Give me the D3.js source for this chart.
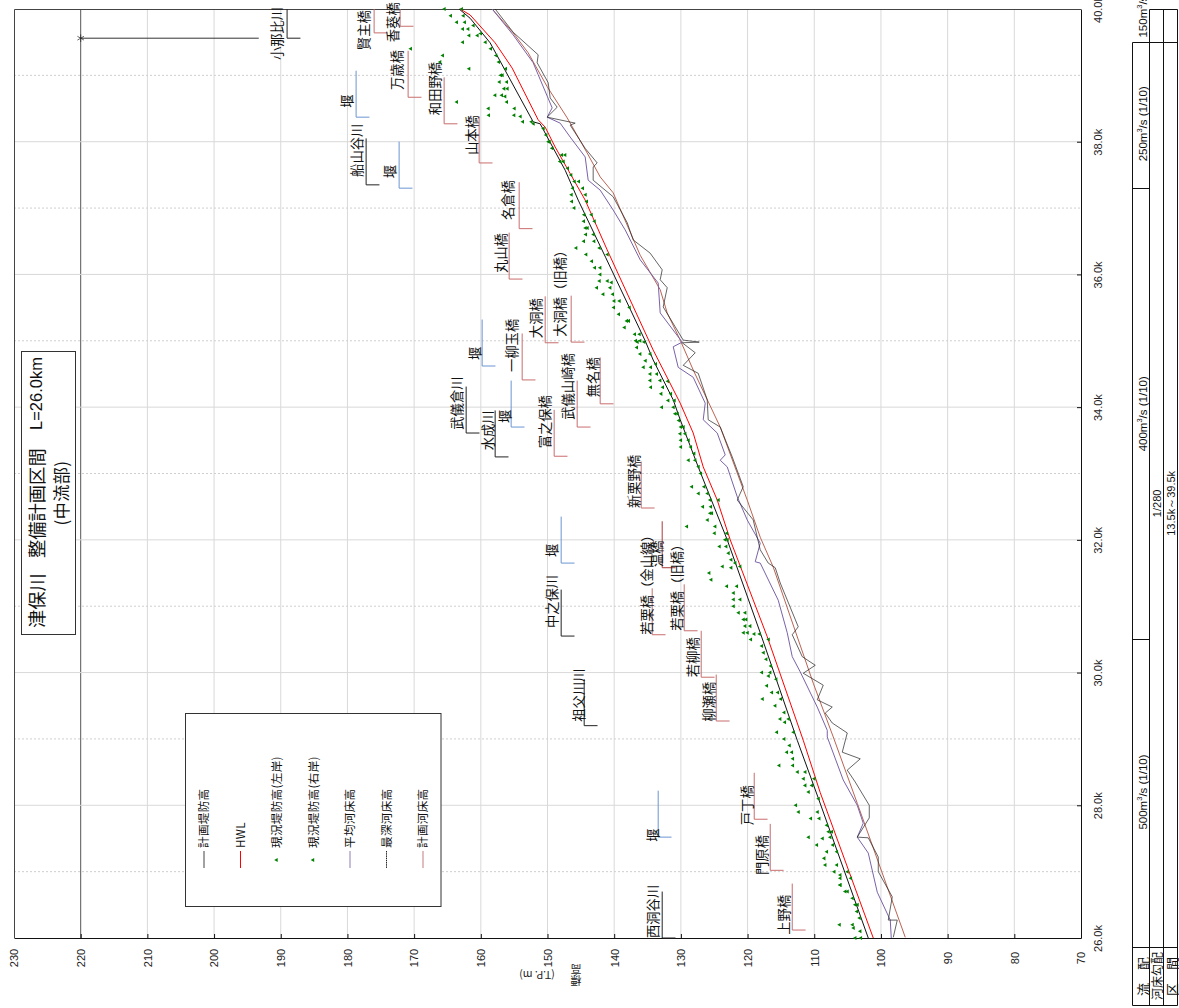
<!DOCTYPE html>
<html><head><meta charset="utf-8">
<script src="https://cdn.jsdelivr.net/npm/d3@7"></script>
<style>html,body{margin:0;padding:0;background:#fff}svg{display:block}</style>
</head><body><svg id="c" width="1179" height="1008"></svg>
<script>
const elevTicks=[230,220,210,200,190,180,170,160,150,140,130,120,110,100,90,80,70];
const kmMajor=[26,28,30,32,34,36,38,40];
const kmMinor=[27,29,31,33,35,37,39];

const hwl=[[40,163.1],[39.91,161.6],[39.49,157.85],[39.11,155.3],[38.33,151.4],[38.22,150.35],[37.92,148.85],[37.12,144.35],[36.37,141.05],[34.86,134.15],[34.06,130.1],[33.61,128.15],[33.1,126.65],[32.6,124.55],[32,122.6],[30.54,117.05],[28.98,111.65],[28.19,109.1],[26,101.15]];
const levee=[[40,163.25],[39.86,161.6],[39.49,158.6],[38.3,152.15],[38.27,151.1],[37.57,147.35],[37.12,145.4],[36.26,141.3],[35,135.35],[34.71,134.15],[34.11,131.15],[33.81,130.1],[33.1,127.4],[32,123.05],[30.6,118.1],[28.98,112.55],[28.11,109.4],[26,101.9]];
const planBed=[[40,158.3],[39.64,155.15],[39.34,152.9],[38.83,150.05],[38.36,147.05],[37.83,144.05],[37.47,142.1],[37.23,140.15],[36.29,136.1],[35.77,133.1],[35.42,132.05],[35.01,130.1],[34.56,128.15],[33.7,124.1],[32.6,120.05],[32.04,118.1],[31.59,116.15],[29.84,110.15],[29.03,107.15],[28.03,103.55],[26.01,96.35]];
const meanBed=[[40,158.3],[39.61,155.15],[39.19,152.15],[39.01,151.4],[38.51,149.3],[38.37,150.05],[38.28,148.1],[38.07,146.6],[37.77,144.35],[37.42,143.9],[37.27,142.1],[36.97,140.15],[36.67,138.35],[36.22,136.1],[35.87,133.4],[35.42,133.1],[34.98,129.8],[34.91,131.15],[34.6,130.4],[34.45,128.15],[34.06,126.35],[33.81,126.65],[33.61,124.55],[33.28,123.35],[33.2,124.1],[33.1,123.05],[32.65,121.55],[32.3,120.05],[31.95,118.1],[31.67,118.85],[31.65,118.1],[31.09,115.4],[30.6,114.05],[30.24,113.3],[30.01,112.1],[29.48,109.55],[29.13,108.05],[29.03,108.05],[28.38,105.65],[28,103.55],[27.73,102.65],[27.52,103.55],[27.28,101.9],[26.69,100.55],[26.27,98.6],[26,98.45]];
const deepBed=[[40,157.85],[39.65,155.15],[39.31,151.4],[39.19,151.55],[38.89,149.9],[38.66,149.6],[38.52,148.55],[38.37,150.05],[38.28,145.85],[38.25,146.6],[37.9,144.35],[37.68,142.55],[37.62,143.15],[37.42,143.15],[37.17,140.15],[36.78,138.05],[36.52,137.15],[36.32,134.6],[36.07,132.8],[35.92,133.1],[35.8,132.05],[35.51,132.65],[35.21,130.85],[35.01,129.65],[34.98,127.25],[34.97,129.8],[34.82,127.85],[34.63,129.65],[34.51,127.4],[34.11,126.05],[33.81,125.9],[33.7,124.1],[33.25,122.3],[32.8,120.65],[32.6,121.55],[32.3,119.15],[31.85,118.1],[31.65,116.9],[31.58,115.85],[31.35,115.1],[30.69,112.4],[30.57,113.3],[30.24,111.8],[30.11,109.85],[29.99,111.65],[29.81,108.65],[29.59,109.55],[29.48,107.3],[29.39,108.35],[29.24,107.3],[29.09,105.05],[28.8,105.8],[28.7,103.1],[28.53,105.05],[28.35,103.85],[28,101.75],[27.81,101.75],[27.52,103.55],[27.51,101.9],[27.22,100.4],[27,100.4],[26.62,98.3],[26.27,98.9],[26.27,97.55],[26.01,98.15]];

const bankKm=[40,39.9,39.8,39.75,39.7,39.63,39.6,39.5,39.4,39.3,39.2,39.1,39,38.9,38.8,38.7,38.68,38.6,38.5,38.4,38.38,38.3,38.27,38.2,38.1,38,37.9,37.8,37.7,37.6,37.5,37.4,37.3,37.2,37.1,37,36.9,36.8,36.7,36.6,36.5,36.4,36.3,36.2,36.1,36,35.9,35.88,35.8,35.7,35.6,35.5,35.4,35.3,35.2,35.1,35,34.98,34.9,34.8,34.7,34.65,34.6,34.5,34.4,34.39,34.3,34.2,34.1,34,33.9,33.8,33.7,33.6,33.5,33.4,33.3,33.2,33.1,33,32.8,32.7,32.6,32.5,32.4,32.3,32.2,32.1,32,31.9,31.8,31.7,31.65,31.6,31.58,31.5,31.4,31.3,31.2,31.1,31,30.9,30.8,30.7,30.6,30.58,30.5,30.4,30.3,30.2,30.1,30,29.95,29.9,29.8,29.7,29.6,29.5,29.4,29.3,29.25,29.1,29,28.9,28.8,28.7,28.6,28.5,28.4,28.3,28.2,28.1,28,27.9,27.8,27.7,27.6,27.52,27.5,27.4,27.3,27.2,27.1,27,26.95,26.9,26.8,26.7,26.6,26.5,26.4,26.3,26.2,26.15,26.1,26];
const bankLeft=[165.45,164.5,163.6,null,162.7,null,161.75,162.7,170.5,165.7,166.1,161.75,157,157.2,156.5,157.85,null,163.6,158.85,158.8,null,153.7,null,null,null,149.85,null,147.85,148.1,null,null,145.95,146.2,146.4,146.35,146,144.5,144.55,144.3,144.25,144.55,145.7,144.2,143.35,142.9,null,142.2,null,142.6,141.65,140,140.05,139.3,138.1,138.45,136.9,136.75,136.5,136.6,136.1,135.3,null,135.6,134.6,134.6,null,134.5,132.95,131.9,132.85,130.85,130.3,130,130.1,130,130,null,128.85,127.35,null,128.35,127.35,125.6,126.7,125.6,126,129.1,124.95,123.35,124.2,122.85,122.45,null,123.75,null,125.75,125.45,123.1,122.1,122.1,122.1,121.35,120.6,120.35,120.6,119,119.5,117.85,117.6,117.2,116.5,117.85,null,null,117.1,116.35,117.75,115.85,null,115.1,114.4,115.6,114.5,null,114.1,null,115.25,112.5,111.6,111.35,110.85,null,112.75,112.35,110.5,null,107.85,110.85,null,109.6,108.1,108.5,108.35,107,null,106.1,106.1,105.35,104.25,103.85,103.6,103.2,106.2,null,103.1,103.85];
const bankRight=[162.85,162.6,162.4,161.1,161.9,160,160.5,159.3,158.5,157.7,157.3,156.25,156.75,156.1,156,156.85,156.35,156.1,154.95,155,154.05,152.4,152.1,150.6,150.2,149.7,149.3,147.35,147.6,146.95,146.45,145.3,144.7,144.3,144.1,null,143.4,142.95,144,143.1,143,142.2,141,null,142.1,142.1,141,140.4,140.6,140.2,139.2,137.7,null,137.8,null,136.2,136.1,135.5,null,134.6,null,133.75,134.5,133.6,133.1,131.95,132.7,131.5,130.95,131.1,130.5,null,129.6,129.35,128.85,128.5,128,127.85,null,127,126.5,126,124.35,125.5,125.35,null,124.85,123.1,123,123.2,null,null,121.85,121.1,122.45,null,null,121.6,null,121.1,null,120.35,120.2,119.6,120,118.2,116.85,null,null,null,null,116.6,116.85,115.7,null,115.45,115,null,114.5,113.85,null,113.1,null,113.7,113.35,113.2,113.2,111.35,110,110.35,null,109.35,null,109.5,109.25,108.1,107.35,107.6,108.75,107.2,106.6,null,106.6,105,106.1,104.5,106.1,105,null,103.5,null,null,104.25,104.1,null,103];

const annNames=["小那比川","賢主橋","香葵橋","万歳橋","和田野橋","堰","船山谷川","堰","山本橋","名倉橋","丸山橋","大洞橋","大洞橋（旧橋）","一柳玉橋","堰","武儀山崎橋","無名橋","武儀倉川","水成川","堰","富之保橋","新栗野橋","堰","中之保川","祖父川川","若栗橋（金山線）","温橋","若栗橋（旧橋）","若柳橋","柳瀬橋","戸丁橋","門原橋","上野橋","堰","西洞谷川"];
const annKinds=["river","bridge","bridge","bridge","bridge","weir","river","weir","bridge","bridge","bridge","bridge","bridge","bridge","weir","bridge","bridge","river","river","weir","bridge","bridge","weir","river","river","bridge","bridge2","bridge","bridge","bridge","bridge","bridge","bridge","weir","river"];
const annElev=[189.05,176,172.1,170.9,165.5,178.7,177.2,172.25,160.25,154.25,155.75,150.35,146.45,153.8,159.8,145.55,142.1,162.2,157.85,155.45,149,135.95,147.95,147.95,144.5,134.3,132.8,129.5,126.95,124.7,119,116.6,113.3,133.4,132.8];
const annKm=[39.56,39.64,39.74,38.67,38.27,38.37,37.35,37.3,37.68,36.69,35.93,34.97,34.98,34.41,34.62,33.7,34.05,33.61,33.25,33.7,33.26,32.48,31.65,30.55,29.2,30.57,31.58,30.63,29.93,29.27,27.79,27.02,26.12,27.52,26];
const annLabelElev=[190.55,177.5,173.15,172.55,166.85,180.05,178.55,173.6,161.3,155.9,156.95,151.7,148.1,155.3,160.85,146.9,143.15,163.55,158.9,156.35,150.35,137,149.3,149.3,145.25,135.05,133.55,130.55,128.15,125.75,120.05,117.8,114.5,134.15,134.15];
const annLabelKm=[39.23,39.38,39.5,38.78,38.4,38.51,37.47,37.45,37.8,36.82,36.02,35.04,35.06,34.53,34.71,33.81,34.15,33.66,33.35,33.76,33.38,32.48,31.74,30.67,29.26,30.57,31.59,30.63,29.93,29.26,27.7,26.95,26.05,27.45,26];

const legendNames=["計画堤防高","HWL","現況堤防高(左岸)","現況堤防高(右岸)","平均河床高","最深河床高","計画河床高"];
const flowBreaks=[39.5,37.3,30.5];
const flowLabels=[["150","/s (1/10)",39.57],["250","/s (1/10)",38.27],["400","/s (1/10)",33.9],["500","/s (1/10)",28.2]];
const rowNames=["流　配","河床勾配","区　間"];
const slopeLabel="1/280";
const rangeLabel="13.5k～39.5k";
const titleParts=["津保川","整備計画区間","L=26.0km"];
const titleLine2="(中流部)";

const x=d3.scaleLinear().domain([230,70]).range([14,1081]);
const y=d3.scaleLinear().domain([40,26]).range([9,938]);
const svg=d3.select("#c");
const SANS="'Liberation Sans',Arial,sans-serif", JP="'Noto Sans CJK JP',sans-serif";
const vtext=(g,px,py,str,o={})=>g.append("text")
  .attr("transform",`translate(${px},${py}) rotate(-90)`)
  .attr("text-anchor",o.anchor||"start").attr("dominant-baseline","central")
  .attr("font-family",o.font||JP).attr("font-size",o.size||13).attr("fill",o.fill||"#111")
  .attr("letter-spacing",o.ls||null).text(str);

// grid
const grid=svg.append("g");
grid.selectAll(".v").data(elevTicks.slice(1,-1)).join("line")
  .attr("x1",d=>x(d)).attr("x2",d=>x(d)).attr("y1",9).attr("y2",938)
  .attr("stroke",d=>d===220?"#555":"#d9d9d9").attr("stroke-width",1);
grid.selectAll(".h").data(kmMajor.slice(1,-1)).join("line")
  .attr("x1",14).attr("x2",1081).attr("y1",d=>y(d)).attr("y2",d=>y(d)).attr("stroke","#d9d9d9");
grid.selectAll(".m").data(kmMinor).join("line")
  .attr("x1",14).attr("x2",1081).attr("y1",d=>y(d)).attr("y2",d=>y(d))
  .attr("stroke","#cfcfcf").attr("stroke-dasharray","2 2");

// axes
const axB=svg.append("g").attr("transform","translate(0,938)")
  .call(d3.axisBottom(x).tickValues(elevTicks).tickSize(-4).tickSizeOuter(0).tickFormat(d3.format("d")));
axB.selectAll("text").attr("font-family",SANS).attr("font-size",11).attr("fill","#222")
  .attr("transform",d=>"translate(0,20) rotate(-90)").attr("text-anchor","middle").attr("dy","0.35em").attr("y",0);
const axR=svg.append("g").attr("transform","translate(1081,0)")
  .call(d3.axisRight(y).tickValues(kmMajor).tickSize(-4).tickSizeOuter(0).tickFormat(d=>d3.format(".1f")(d)+"k"));
axR.selectAll("text").attr("font-family",SANS).attr("font-size",11).attr("fill","#222")
  .attr("transform","translate(17,0) rotate(-90)").attr("text-anchor","middle").attr("dy","0.35em").attr("x",0);
[axB,axR].forEach(a=>a.selectAll("line,path").attr("stroke","#111"));
svg.append("path").attr("d","M14.5,938V9.5H1081").attr("fill","none").attr("stroke","#444");

// axis title
svg.append("text").attr("transform","translate(537,975) rotate(180)").attr("text-anchor","middle")
  .attr("dominant-baseline","central").attr("font-family",JP).attr("font-size",10.5).attr("fill","#222").text("(T.P. m)");
svg.append("text").attr("transform","translate(576,970) rotate(180)").attr("text-anchor","middle")
  .attr("dominant-baseline","central").attr("font-family",JP).attr("font-size",11).attr("fill","#222").text("高");
svg.append("text").attr("transform","translate(576,981) rotate(180)").attr("text-anchor","middle")
  .attr("dominant-baseline","central").attr("font-family",JP).attr("font-size",11).attr("fill","#222").text("標");

// annotations
const kindColor={river:"#222",bridge:"#c96d6d",bridge2:"#a83c3c",weir:"#6b95d2"};
const ann=svg.append("g");
annNames.forEach((n,i)=>{
  const c=kindColor[annKinds[i]], xe=x(annElev[i]), top=Math.min(40,annKm[i]+0.7);
  ann.append("path").attr("fill","none").attr("stroke",c).attr("stroke-width",1)
    .attr("d",d3.line()([[xe,y(top)],[xe,y(annKm[i])],[x(annElev[i]-2),y(annKm[i])]]));
  vtext(ann,x(annLabelElev[i])-1,y(annLabelKm[i]),n,{size:13.3});
});
// tributary marker
const tribKm=39.56, tribFrom=220, tribTo=193.3;
ann.append("line").attr("x1",x(tribFrom)).attr("x2",x(tribTo)).attr("y1",y(tribKm)).attr("y2",y(tribKm)).attr("stroke","#333");
ann.append("path").attr("d",d3.symbol(d3.symbolAsterisk,40)()).attr("transform",`translate(${x(tribFrom)},${y(tribKm)})`)
  .attr("fill","none").attr("stroke","#222").attr("stroke-width",.7);

// lines
const ln=d3.line().x(d=>x(d[1])).y(d=>y(d[0]));
const lines=svg.append("g").attr("fill","none").attr("stroke-linejoin","round");
lines.append("path").attr("d",ln(planBed)).attr("stroke","#bb6352").attr("stroke-width",1);
lines.append("path").attr("d",ln(meanBed)).attr("stroke","#7a62a8").attr("stroke-width",1);
lines.append("path").attr("d",ln(deepBed)).attr("stroke","#222").attr("stroke-width",.7);
lines.append("path").attr("d",ln(levee)).attr("stroke","#111").attr("stroke-width",1);
lines.append("path").attr("d",ln(hwl)).attr("stroke","#ff0000").attr("stroke-width",1);

// bank markers
const tri=d3.symbol(d3.symbolTriangle,7)();
[bankLeft,bankRight].forEach(arr=>{
  svg.append("g").selectAll("path").data(bankKm.map((k,i)=>[k,arr[i]]).filter(d=>d[1]!=null)).join("path")
    .attr("d",tri).attr("fill","#008000")
    .attr("transform",d=>`translate(${x(d[1])},${y(d[0])}) rotate(-90)`);
});

// legend
const lg=svg.append("g");
lg.append("rect").attr("x",185.5).attr("y",713.5).attr("width",255.5).attr("height",193).attr("fill","#fff").attr("stroke","#333");
const lgX=d3.scalePoint().domain(legendNames).range([204,423]);
const lgColor=["#444","#ff0000",null,null,"#8f7fb5","#222","#c77a7a"];
legendNames.forEach((n,i)=>{
  const px=lgX(n);
  if(lgColor[i]) lg.append("line").attr("x1",px).attr("x2",px).attr("y1",851).attr("y2",868)
    .attr("stroke",lgColor[i]).attr("stroke-dasharray",i===5?"1.5 .7":null);
  else lg.append("path").attr("d",tri).attr("fill","#008000").attr("transform",`translate(${px-.5},860) rotate(-90)`);
  vtext(lg,px-1,848,n,{size:11.5,ls:".4"});
});

// title
const tb=svg.append("g");
tb.append("rect").attr("x",21.5).attr("y",351.5).attr("width",54).attr("height",283).attr("fill","#fff").attr("stroke","#333");
vtext(tb,36,628,titleParts[0],{size:18.3});
vtext(tb,36,558,titleParts[1],{size:18.3});
vtext(tb,36,430,titleParts[2],{size:16.5,font:SANS});
vtext(tb,60,493,titleLine2,{size:17,anchor:"middle",ls:".5"});

// table
const t=svg.append("g").attr("stroke","#111").attr("fill","none");
const seg=(a,b,c,d)=>t.append("line").attr("x1",a+.5).attr("y1",b+.5).attr("x2",c+.5).attr("y2",d+.5);
[1132].forEach(v=>seg(v,42,v,1005));
[1149,1163,1177].forEach(v=>seg(v,9,v,1005));
seg(1149,9,1177,9);
seg(1132,947,1177,947);
seg(1132,1005,1177,1005);
flowBreaks.forEach((k,i)=>{const py=Math.round(y(k));seg(1132,py,i===0?1177:1149,py);});
const tx=svg.append("g");
flowLabels.forEach(([a,b,k])=>{
  const tt=tx.append("text").attr("transform",`translate(1143,${y(k)}) rotate(-90)`)
    .attr("text-anchor",k>39?"start":"middle").attr("dominant-baseline","central")
    .attr("font-family",SANS).attr("font-size",11.5).attr("fill","#111");
  tt.append("tspan").text(a+"m");
  tt.append("tspan").attr("font-size",7.5).attr("dy",-4).text("3");
  tt.append("tspan").attr("dy",4).text(b);
});
vtext(tx,1157,y(32.55),slopeLabel,{font:SANS,size:11,anchor:"middle"});
vtext(tx,1171,y(32.55),rangeLabel,{font:SANS,size:11,anchor:"middle"});
vtext(tx,1142,996,rowNames[0],{size:13});
vtext(tx,1156.5,1000,rowNames[1],{size:12});
vtext(tx,1171,996,rowNames[2],{size:13});
</script></body></html>
